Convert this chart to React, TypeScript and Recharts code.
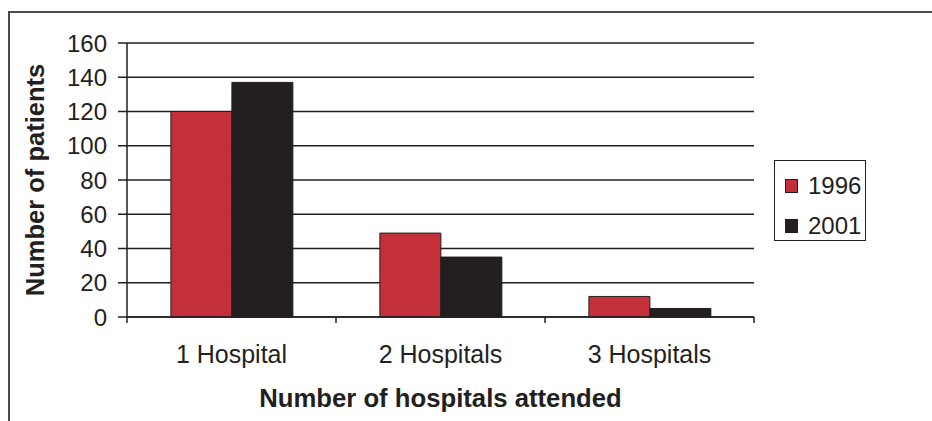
import { Bar, BarChart, CartesianGrid, Label, Legend, XAxis, YAxis } from "recharts";

const categories = ["1 Hospital", "2 Hospitals", "3 Hospitals"];
const patients1996 = [120, 49, 12];
const patients2001 = [137, 35, 5];
const yTicks = [0, 20, 40, 60, 80, 100, 120, 140, 160];

const data = categories.map((name, i) => ({
  name,
  y1996: patients1996[i],
  y2001: patients2001[i],
}));

const INK = "#231f20";
const RED = "#c4303a";
const FONT = '"Liberation Sans", Arial, Helvetica, sans-serif';

const WIDTH = 932;
const HEIGHT = 421;
const MARGIN = { top: 43, right: 178, bottom: 0, left: 0 };
const Y_AXIS_WIDTH = 127;
const BAND = (WIDTH - MARGIN.left - MARGIN.right - Y_AXIS_WIDTH) / categories.length;

interface TickProps {
  x?: number;
  y?: number;
  index?: number;
  payload?: { value: string; offset?: number };
}

// category label, with tick marks on the band edges instead of the centre
function HospitalTick({ x = 0, y = 0, index = 0, payload }: TickProps) {
  const half = payload?.offset ?? BAND / 2;
  const last = index === categories.length - 1;
  return (
    <g>
      <line x1={x - half} x2={x - half} y1={y} y2={y + 6} stroke={INK} strokeWidth={1.5} />
      {last && <line x1={x + half} x2={x + half} y1={y} y2={y + 6} stroke={INK} strokeWidth={1.5} />}
      <text x={x} y={y + 46} textAnchor="middle" fontSize={25} fill={INK}>
        {payload?.value}
      </text>
    </g>
  );
}

interface LegendItem {
  value?: string;
  color?: string;
}

function YearLegend({ payload }: { payload?: LegendItem[] }) {
  return (
    <div
      style={{
        border: `1.5px solid ${INK}`,
        width: 92,
        height: 81,
        boxSizing: "border-box",
        paddingTop: 5,
        background: "#fff",
      }}
    >
      {(payload ?? []).map((p) => (
        <div
          key={p.value}
          style={{ display: "flex", alignItems: "center", height: 40, lineHeight: "40px", fontSize: 24, color: INK }}
        >
          <span
            style={{
              display: "inline-block",
              width: 11,
              height: 12,
              marginLeft: 10,
              marginRight: 10,
              background: p.color,
              border: `1px solid ${INK}`,
            }}
          />
          {p.value}
        </div>
      ))}
    </div>
  );
}

export default function App() {
  return (
    <div
      style={{
        position: "absolute",
        left: 0,
        top: 0,
        width: WIDTH,
        height: HEIGHT,
        background: "#fff",
        overflow: "hidden",
        fontFamily: FONT,
      }}
    >
      <div
        style={{
          position: "absolute",
          left: 8,
          top: 11,
          right: 0,
          bottom: 0,
          borderTop: "2px solid #4a4a4a",
          borderLeft: "2px solid #4a4a4a",
        }}
      />
      <div style={{ position: "absolute", left: 0, top: 0 }}>
        <BarChart width={WIDTH} height={HEIGHT} data={data} margin={MARGIN} barCategoryGap="21%" barGap={0}>
          <CartesianGrid horizontal vertical={false} stroke={INK} strokeWidth={1.5} />
          <XAxis
            dataKey="name"
            height={104}
            tickLine={false}
            tickSize={0}
            tickMargin={0}
            axisLine={{ stroke: INK, strokeWidth: 1.5 }}
            tick={<HospitalTick />}
            interval={0}
          >
            <Label
              value="Number of hospitals attended"
              position="insideBottom"
              offset={14}
              style={{ fontSize: 25.7, fontWeight: 700, fill: INK }}
            />
          </XAxis>
          <YAxis
            width={Y_AXIS_WIDTH}
            domain={[0, 160]}
            ticks={yTicks}
            interval={0}
            tickSize={9}
            tickMargin={11}
            axisLine={{ stroke: INK, strokeWidth: 1.5 }}
            tickLine={{ stroke: INK, strokeWidth: 1.5 }}
            tick={{ fontSize: 24, fill: INK }}
          >
            <Label
              value="Number of patients"
              angle={-90}
              position="insideLeft"
              offset={35}
              style={{ fontSize: 25.5, fontWeight: 700, fill: INK, textAnchor: "middle" }}
            />
          </YAxis>
          <Legend
            layout="vertical"
            align="center"
            verticalAlign="middle"
            wrapperStyle={{ left: 774, top: 160, width: 92 }}
            content={<YearLegend />}
          />
          <Bar dataKey="y1996" name="1996" fill={RED} stroke={INK} strokeWidth={1} isAnimationActive={false} />
          <Bar dataKey="y2001" name="2001" fill={INK} stroke={INK} strokeWidth={1} isAnimationActive={false} />
        </BarChart>
      </div>
    </div>
  );
}
